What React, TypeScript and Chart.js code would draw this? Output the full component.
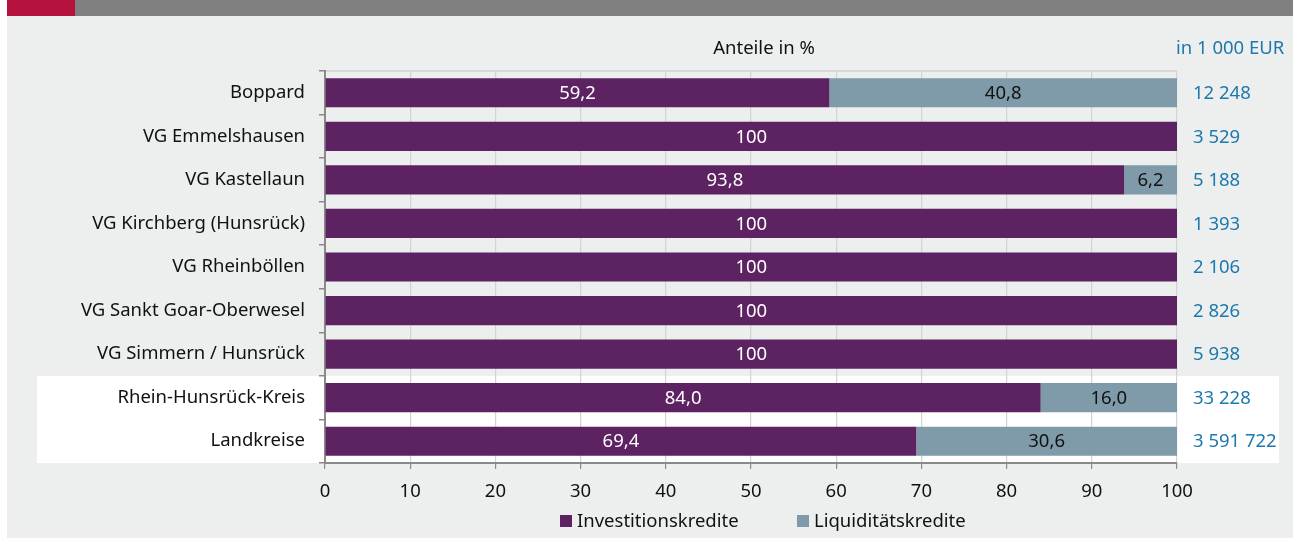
import React, { useEffect, useRef } from "react";
import { Chart, registerables } from "chart.js";

Chart.register(...registerables);

const categories = [
  "Boppard",
  "VG Emmelshausen",
  "VG Kastellaun",
  "VG Kirchberg (Hunsrück)",
  "VG Rheinböllen",
  "VG Sankt Goar-Oberwesel",
  "VG Simmern / Hunsrück",
  "Rhein-Hunsrück-Kreis",
  "Landkreise",
];
const investitionskredite = [59.2, 100, 93.8, 100, 100, 100, 100, 84.0, 69.4];
const liquiditaetskredite = [40.8, 0, 6.2, 0, 0, 0, 0, 16.0, 30.6];
const totals = ["12 248", "3 529", "5 188", "1 393", "2 106", "2 826", "5 938", "33 228", "3 591 722"];
const xTicks = [0, 10, 20, 30, 40, 50, 60, 70, 80, 90, 100];
const seriesNames = ["Investitionskredite", "Liquiditätskredite"];

const PURPLE = "#5c2261";
const GREYBLUE = "#7f9aa8";
const BLUE = "#1d79ad";
const FONT = "'Noto Sans', sans-serif";
const FS = 18.5;

const fmt = (v: number) => (v === 100 ? "100" : v.toFixed(1).replace(".", ","));

const decorPlugin = {
  id: "decor",
  beforeDraw(chart: any) {
    const { ctx, chartArea, scales } = chart;
    const y = scales.y;
    ctx.save();
    ctx.fillStyle = "#edeeee";
    ctx.fillRect(7, 16, 1286, 538 - 16);
    ctx.fillStyle = "#808080";
    ctx.fillRect(7, 0, 1286, 16);
    ctx.fillStyle = "#b5123e";
    ctx.fillRect(7, 0, 68, 16);
    // white panel behind the aggregate rows
    const step = y.getPixelForValue(1) - y.getPixelForValue(0);
    const top = y.getPixelForValue(7) - step / 2;
    ctx.fillStyle = "#ffffff";
    ctx.fillRect(37, top, 1279 - 37, chartArea.bottom - top);
    // top border line
    ctx.strokeStyle = "#d0d0d0";
    ctx.lineWidth = 1.5;
    ctx.beginPath();
    ctx.moveTo(chartArea.left, chartArea.top);
    ctx.lineTo(chartArea.right, chartArea.top);
    ctx.stroke();
    ctx.restore();
  },
  afterDatasetsDraw(chart: any) {
    const { ctx, chartArea, scales } = chart;
    ctx.save();
    ctx.font = `${FS}px ${FONT}`;
    ctx.textAlign = "center";
    ctx.textBaseline = "middle";
    chart.data.datasets.forEach((ds: any, di: number) => {
      const meta = chart.getDatasetMeta(di);
      meta.data.forEach((bar: any, i: number) => {
        const v = ds.data[i];
        if (!v) return;
        ctx.fillStyle = di === 0 ? "#ffffff" : "#111111";
        ctx.fillText(fmt(v), (bar.x + bar.base) / 2, bar.y + 1);
      });
    });
    // title
    ctx.fillStyle = "#111111";
    ctx.fillText("Anteile in %", 764, 49);
    // unit header and totals
    ctx.textAlign = "left";
    ctx.fillStyle = BLUE;
    ctx.fillText("in 1 000 EUR", chartArea.right - 1, 49);
    totals.forEach((t, i) => {
      ctx.fillText(t, chartArea.right + 16, scales.y.getPixelForValue(i) + 1);
    });
    // legend
    const colors = [PURPLE, GREYBLUE];
    const starts = [560, 797];
    const ly = 521;
    seriesNames.forEach((n, i) => {
      ctx.fillStyle = colors[i];
      ctx.fillRect(starts[i], ly - 6, 12, 12);
      ctx.fillStyle = "#111111";
      ctx.fillText(n, starts[i] + 17, ly + 1);
    });
    ctx.restore();
  },
};

export default function App() {
  const ref = useRef<HTMLCanvasElement | null>(null);
  useEffect(() => {
    if (!ref.current) return;
    const chart = new Chart(ref.current, {
      type: "bar",
      data: {
        labels: categories,
        datasets: [
          { label: seriesNames[0], data: investitionskredite, backgroundColor: PURPLE, barPercentage: 0.67, categoryPercentage: 1 },
          { label: seriesNames[1], data: liquiditaetskredite, backgroundColor: GREYBLUE, barPercentage: 0.67, categoryPercentage: 1 },
        ],
      },
      options: {
        indexAxis: "y",
        animation: false,
        responsive: true,
        maintainAspectRatio: false,
        layout: { padding: { top: 71, right: 122, bottom: 0, left: 0 } },
        plugins: { legend: { display: false }, tooltip: { enabled: false }, title: { display: false } },
        scales: {
          x: {
            stacked: true,
            min: 0,
            max: 100,
            afterBuildTicks: (s: any) => {
              s.ticks = xTicks.map((v) => ({ value: v }));
            },
            afterFit: (s: any) => {
              s.height = 75;
            },
            ticks: { color: "#111111", font: { family: FONT, size: FS }, padding: 12 },
            grid: { color: "#d3d3d3", lineWidth: 1.2, tickColor: "#8a8a8a", tickLength: 6, drawTicks: true },
            border: { color: "#8a8a8a", width: 2 },
          },
          y: {
            stacked: true,
            afterFit: (s: any) => {
              s.width = 325;
            },
            ticks: { color: "#111111", font: { family: FONT, size: FS }, padding: 14 },
            grid: { drawOnChartArea: false, tickColor: "#8a8a8a", tickLength: 6, lineWidth: 1.5 },
            border: { color: "#8a8a8a", width: 2 },
          },
        },
      },
      plugins: [decorPlugin],
    } as any);
    return () => chart.destroy();
  }, []);
  return (
    <div style={{ position: "fixed", left: 0, top: 0, width: 1299, height: 538 }}>
      <canvas ref={ref} />
    </div>
  );
}
